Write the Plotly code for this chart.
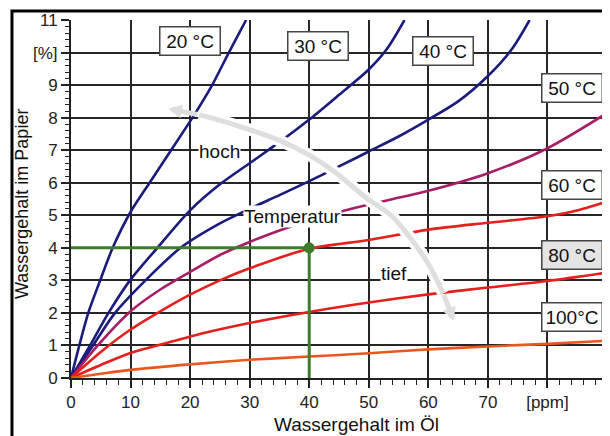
import plotly.graph_objects as go

# ---------------- data ----------------
x_ticks = [0, 10, 20, 30, 40, 50, 60, 70, 80, 90]
x_ticktext = ["0", "10", "20", "30", "40", "50", "60", "70", "[ppm]", "90"]
y_ticks = [0, 1, 2, 3, 4, 5, 6, 7, 8, 9, 10, 11]
y_ticktext = ["0", "1", "2", "3", "4", "5", "6", "7", "8", "9", "[%]", "11"]

t20_x = [0, 1.4, 2.9, 4.9, 7.0, 10.0, 13.2, 16.8, 20.4, 23.7, 26.5, 29.4]
t20_y = [0, 1.0, 2.0, 3.0, 4.0, 5.1, 6.0, 7.0, 8.0, 9.0, 10.0, 11.0]

t30_x = [0, 3.2, 6.3, 9.9, 14.5, 20.0, 25.0, 30.0, 35.4, 40.0, 45.0, 50.0, 53.0, 56.0]
t30_y = [0, 1.0, 2.0, 3.0, 4.0, 5.15, 5.95, 6.6, 7.3, 7.94, 8.7, 9.48, 10.1, 11.0]

t40_x = [0, 3.7, 7.4, 12.5, 18.4, 25.0, 30.0, 35.0, 40.0, 45.0, 50.0, 55.0, 60.0, 65.0, 70.0, 74.0, 77.0]
t40_y = [0, 1.0, 2.0, 3.0, 4.0, 4.75, 5.2, 5.62, 6.05, 6.5, 6.96, 7.42, 7.94, 8.5, 9.28, 10.1, 11.0]

t50_x = [0, 4.5, 10.0, 15.0, 20.0, 25.0, 30.0, 35.0, 40.0, 45.0, 50.0, 60.0, 70.0, 80.0, 90.5]
t50_y = [0, 1.0, 2.05, 2.72, 3.26, 3.78, 4.18, 4.53, 4.85, 5.1, 5.33, 5.75, 6.29, 7.06, 8.2]

t60_x = [0, 5.0, 10.0, 15.0, 20.0, 25.0, 30.0, 40.0, 50.0, 60.0, 70.0, 80.0, 85.0, 90.5]
t60_y = [0, 0.8, 1.49, 2.05, 2.56, 3.0, 3.37, 3.97, 4.24, 4.56, 4.77, 4.97, 5.15, 5.45]

t80_x = [0, 5.0, 10.0, 18.2, 22.5, 30.0, 40.0, 50.0, 60.0, 70.0, 80.0, 90.5]
t80_y = [0, 0.4, 0.77, 1.18, 1.39, 1.69, 2.03, 2.32, 2.57, 2.78, 2.98, 3.25]

t100_x = [0, 5.0, 10.0, 20.0, 30.0, 40.0, 50.0, 60.0, 70.0, 80.0, 90.5]
t100_y = [0, 0.13, 0.25, 0.42, 0.56, 0.66, 0.76, 0.88, 0.97, 1.05, 1.15]

example_x = [0, 40, 40]
example_y = [4.0, 4.0, 0]

arrow_x = [16.3, 21.5, 28.0, 35.0, 40.0, 44.5, 49.8, 53.7, 57.0, 60.0, 62.5, 64.3]
arrow_y = [8.27, 8.09, 7.75, 7.3, 6.85, 6.3, 5.5, 5.0, 4.3, 3.5, 2.6, 1.75]

curve_labels = ["20 °C", "30 °C", "40 °C", "50 °C", "60 °C", "80 °C", "100°C"]
label_x = [20.0, 41.4, 62.5, 84.2, 84.2, 84.2, 84.2]
label_y = [10.37, 10.2, 10.06, 8.9, 5.94, 3.78, 1.86]
label_bg = ["white", "white", "white", "white", "white", "#e4e4e4", "white"]

NAVY = "#1b1b7d"
PURPLE = "#a81e66"
RED = "#e41f1c"
ORANGE = "#e8581e"
GREEN = "#3e7c2c"
ARROW = "#dedede"
FONT = "Liberation Sans, Arial, sans-serif"

fig = go.Figure()

curves = [
    (t20_x, t20_y, NAVY), (t30_x, t30_y, NAVY), (t40_x, t40_y, NAVY),
    (t50_x, t50_y, PURPLE), (t60_x, t60_y, RED), (t80_x, t80_y, RED),
    (t100_x, t100_y, ORANGE),
]
for cx, cy, col in curves:
    fig.add_trace(go.Scatter(x=cx, y=cy, mode="lines",
                             line=dict(color=col, width=2.6, shape="spline", smoothing=0.8),
                             hoverinfo="skip", showlegend=False))

# example reading (green)
fig.add_trace(go.Scatter(x=example_x, y=example_y, mode="lines",
                         line=dict(color=GREEN, width=3), showlegend=False, hoverinfo="skip"))
fig.add_trace(go.Scatter(x=[example_x[1]], y=[example_y[1]], mode="markers",
                         marker=dict(color=GREEN, size=11), showlegend=False, hoverinfo="skip"))

# temperature arrow (white halo + grey body)
fig.add_trace(go.Scatter(x=arrow_x[1:-1], y=arrow_y[1:-1], mode="lines",
                         line=dict(color="white", width=12, shape="spline"),
                         showlegend=False, hoverinfo="skip"))
fig.add_trace(go.Scatter(x=arrow_x[1:-1], y=arrow_y[1:-1], mode="lines",
                         line=dict(color=ARROW, width=5, shape="spline"),
                         showlegend=False, hoverinfo="skip"))

annotations = []
# arrow heads
annotations.append(dict(x=arrow_x[-1], y=arrow_y[-1], ax=arrow_x[-2], ay=arrow_y[-2],
                        xref="x", yref="y", axref="x", ayref="y", text="",
                        showarrow=True, arrowhead=2, arrowsize=0.55, arrowwidth=5,
                        arrowcolor=ARROW))
annotations.append(dict(x=arrow_x[0], y=arrow_y[0], ax=arrow_x[1], ay=arrow_y[1],
                        xref="x", yref="y", axref="x", ayref="y", text="",
                        showarrow=True, arrowhead=2, arrowsize=0.55, arrowwidth=5,
                        arrowcolor=ARROW))

for txt, lx, ly, bg in zip(curve_labels, label_x, label_y, label_bg):
    annotations.append(dict(x=lx, y=ly, xref="x", yref="y", text=txt, showarrow=False,
                            font=dict(family=FONT, size=19, color="#111"),
                            bgcolor=bg, bordercolor="#444", borderwidth=1.5,
                            borderpad=2.5, width=54, height=22))

for txt, lx, ly in [("hoch", 25.0, 6.97), ("Temperatur", 37.2, 4.95), ("tief", 54.3, 3.22)]:
    annotations.append(dict(x=lx, y=ly, xref="x", yref="y", text=txt, showarrow=False,
                            font=dict(family=FONT, size=19, color="#111"),
                            bgcolor="white", borderpad=0))

annotations.append(dict(x=0.529, y=-0.1285, xref="paper", yref="paper",
                        text="Wassergehalt im Öl", showarrow=False,
                        font=dict(family=FONT, size=19, color="#111"),
                        xanchor="center", yanchor="middle"))
annotations.append(dict(x=-0.0909, y=0.486, xref="paper", yref="paper",
                        text="Wassergehalt im Papier", showarrow=False, textangle=-90,
                        font=dict(family=FONT, size=18, color="#111"),
                        xanchor="center", yanchor="middle"))

fig.update_layout(
    width=602, height=428,
    margin=dict(l=63, r=0, t=12, b=58),
    paper_bgcolor="white", plot_bgcolor="white",
    showlegend=False,
    annotations=annotations,
    shapes=[dict(type="rect", xref="paper", yref="paper",
                 x0=-0.1095, y0=-0.4, x1=1.2, y1=1.0251,
                 line=dict(color="black", width=3), layer="above")],
    font=dict(family=FONT),
)

fig.update_xaxes(range=[0, 90.5], tickvals=x_ticks, ticktext=x_ticktext,
                 showgrid=True, gridcolor="#262626", gridwidth=1.7,
                 showline=True, linecolor="#222", linewidth=2,
                 ticks="outside", ticklen=8, tickwidth=1.5, tickcolor="#222",
                 minor=dict(dtick=2, ticklen=5, tickcolor="#222", tickwidth=1.2, showgrid=False),
                 tickfont=dict(family=FONT, size=17, color="#222"), zeroline=False)
fig.update_yaxes(range=[0, 11], tickvals=y_ticks, ticktext=y_ticktext,
                 showgrid=True, gridcolor="#262626", gridwidth=1.7,
                 showline=True, linecolor="#222", linewidth=2,
                 ticks="outside", ticklen=8, tickwidth=1.5, tickcolor="#222",
                 minor=dict(dtick=0.2, ticklen=4, tickcolor="#222", tickwidth=1.2, showgrid=False),
                 tickfont=dict(family=FONT, size=17, color="#222"), zeroline=False)

fig.write_html("out.html")
